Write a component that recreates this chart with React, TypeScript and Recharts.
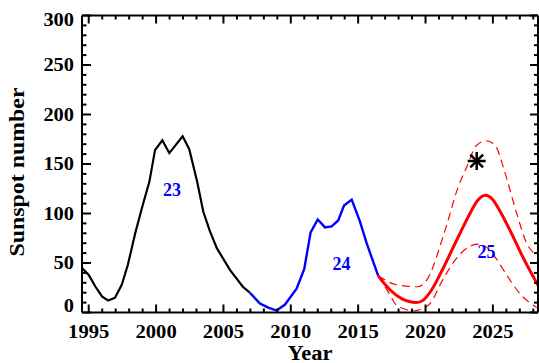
import React from 'react';
import { ComposedChart, Line, XAxis, YAxis, ReferenceDot } from 'recharts';

const FONT = '"Liberation Serif", "Times New Roman", Times, serif';

// axis ticks
const xMajorTicks = [1995, 2000, 2005, 2010, 2015, 2020, 2025];
const xAllTicks = [
  1995, 1996, 1997, 1998, 1999, 2000, 2001, 2002, 2003, 2004, 2005, 2006, 2007, 2008, 2009, 2010, 2011,
  2012, 2013, 2014, 2015, 2016, 2017, 2018, 2019, 2020, 2021, 2022, 2023, 2024, 2025, 2026, 2027, 2028,
];
const yMajorTicks = [0, 50, 100, 150, 200, 250, 300];
const yAllTicks = [
  0, 10, 20, 30, 40, 50, 60, 70, 80, 90, 100, 110, 120, 130, 140, 150, 160, 170, 180, 190, 200, 210, 220,
  230, 240, 250, 260, 270, 280, 290, 300,
];

// cycle 23 (black)
const cycle23Years = [
  1994.5, 1995.0, 1995.5, 1996.0, 1996.45, 1996.95, 1997.45, 1997.9, 1998.45, 1999.0, 1999.5, 1999.92,
  2000.46, 2000.98, 2001.97, 2002.46, 2003.05, 2003.5, 2004.0, 2004.51, 2005.48, 2006.44, 2006.96,
];
const cycle23Ssn = [45, 38, 26, 16, 12, 15, 28, 48, 80, 108, 132, 164, 174, 161, 178, 165, 132, 102, 82, 65, 43, 26, 20];

// cycle 24 (blue)
const cycle24Years = [
  2006.96, 2007.71, 2008.33, 2008.95, 2009.57, 2010.43, 2011.0, 2011.47, 2012.0, 2012.54, 2013.03, 2013.52,
  2013.95, 2014.52, 2015.13, 2015.63, 2016.49,
];
const cycle24Ssn = [20, 9, 5, 2, 8, 24, 44, 81, 94, 86, 87, 93, 108, 114, 92, 70, 37];

// prediction (red) and its bounds
const predYears = [
  2016.49, 2017.36, 2018.23, 2019.34, 2019.83, 2020.46, 2021.32, 2022.31, 2023.3, 2023.8, 2024.45, 2025.0,
  2025.5, 2026.27, 2027.26, 2028.37,
];
const predSsn = [37, 23, 14, 10, 12.5, 23, 45, 73, 100, 112, 118.5, 114, 103, 83, 55, 27];

const upperYears = [
  2016.49, 2017.86, 2019.4, 2020.1, 2021.45, 2022.43, 2023.06, 2023.8, 2024.54, 2025.16, 2025.9, 2026.77,
  2027.51, 2028.37,
];
const upperSsn = [37, 28, 26, 33, 83, 127, 147, 169, 173.5, 169, 141, 100, 70, 57];

const lowerYears = [
  2016.49, 2017.36, 2017.86, 2018.35, 2019.1, 2019.6, 2020.33, 2021.32, 2022.31, 2023.18, 2023.8, 2024.41,
  2025.16, 2026.02, 2027.01, 2028.25,
];
const lowerSsn = [37, 18, 7, 4, 1.5, 3, 9, 34, 55, 66, 69, 67, 56, 38, 19, 5];

// observed point (asterisk)
const starYears = [2023.8];
const starSsn = [153];

// cycle labels
const cycleNames = ['23', '24', '25'];
const cycleLabelYears = [2001.18, 2013.76, 2024.52];
const cycleLabelSsn = [124, 50, 62];

const toRows = (xs: number[], ys: number[]) => xs.map((year, i) => ({ year, value: ys[i] }));

const X_DOMAIN: [number, number] = [1994.5, 2028.35];
const Y_DOMAIN: [number, number] = [0, 300];

const labelStyle = {
  fontFamily: FONT,
  fontWeight: 'bold' as const,
  fontSize: 18,
  fill: '#000',
};

const BottomTick = ({ x, y, payload }: any) => {
  const major = xMajorTicks.includes(payload.value);
  const txt = String(payload.value);
  return (
    <g>
      <line x1={x} x2={x} y1={y} y2={y - (major ? 8 : 4)} stroke="#000" strokeWidth={2} />
      {major && (
        <text x={x} y={y + 25.5} textAnchor="middle" {...labelStyle} textLength={txt.length * 10.3} lengthAdjust="spacingAndGlyphs">
          {txt}
        </text>
      )}
    </g>
  );
};

const TopTick = ({ x, y, payload }: any) => {
  const major = xMajorTicks.includes(payload.value);
  return <line x1={x} x2={x} y1={y} y2={y + (major ? 8 : 4)} stroke="#000" strokeWidth={2} />;
};

const LeftTick = ({ x, y, payload }: any) => {
  const major = yMajorTicks.includes(payload.value);
  const txt = String(payload.value);
  // end labels sit inside the frame a little
  const dy = payload.value === 0 ? -0.5 : payload.value === 300 ? 10 : 6;
  return (
    <g>
      <line x1={x} x2={x + (major ? 9 : 4.5)} y1={y} y2={y} stroke="#000" strokeWidth={2} />
      {major && (
        <text x={x - 8} y={y + dy} textAnchor="end" {...labelStyle} textLength={txt.length * 10.2} lengthAdjust="spacingAndGlyphs">
          {txt}
        </text>
      )}
    </g>
  );
};

const RightTick = ({ x, y, payload }: any) => {
  const major = yMajorTicks.includes(payload.value);
  return <line x1={x} x2={x - (major ? 8 : 4)} y1={y} y2={y} stroke="#000" strokeWidth={2} />;
};

const YTitle = ({ viewBox }: any) => {
  const cx = viewBox.x + 24;
  const cy = viewBox.y + viewBox.height / 2 + 8;
  return (
    <text
      x={cx}
      y={cy}
      transform={`rotate(-90 ${cx} ${cy})`}
      textAnchor="middle"
      fontFamily={FONT}
      fontWeight="bold"
      fontSize={20}
      fill="#000"
      textLength={169}
      lengthAdjust="spacingAndGlyphs"
    >
      Sunspot number
    </text>
  );
};

const XTitle = ({ viewBox }: any) => (
  <text
    x={viewBox.x + viewBox.width / 2}
    y={viewBox.y + 47.5}
    textAnchor="middle"
    fontFamily={FONT}
    fontWeight="bold"
    fontSize={20}
    fill="#000"
    textLength={45}
    lengthAdjust="spacingAndGlyphs"
  >
    Year
  </text>
);

const Asterisk = ({ cx, cy }: any) => {
  if (cx == null || cy == null) return null;
  const r = 9;
  const d = r * 0.7071;
  return (
    <g stroke="#000" strokeWidth={2.5}>
      <line x1={cx - r} x2={cx + r} y1={cy} y2={cy} />
      <line x1={cx} x2={cx} y1={cy - r} y2={cy + r} />
      <line x1={cx - d} x2={cx + d} y1={cy - d} y2={cy + d} />
      <line x1={cx - d} x2={cx + d} y1={cy + d} y2={cy - d} />
    </g>
  );
};

export default function App() {
  return (
    <div style={{ position: 'absolute', left: 0, top: 0, width: 539, height: 363, background: '#fff' }}>
      <ComposedChart width={539} height={363} margin={{ top: 14.5, right: 0, bottom: 0, left: 0 }}>
        <XAxis
          dataKey="year"
          type="number"
          domain={X_DOMAIN}
          allowDataOverflow
          ticks={xAllTicks}
          interval={0}
          height={50.5}
          tickSize={0}
          tickMargin={0}
          tickLine={false}
          tick={<BottomTick />}
          axisLine={{ stroke: '#000', strokeWidth: 2 }}
          label={<XTitle />}
        />
        <XAxis
          xAxisId="top"
          orientation="top"
          dataKey="year"
          type="number"
          domain={X_DOMAIN}
          allowDataOverflow
          ticks={xAllTicks}
          interval={0}
          height={1}
          tickSize={0}
          tickMargin={0}
          tickLine={false}
          tick={<TopTick />}
          axisLine={{ stroke: '#000', strokeWidth: 2 }}
        />
        <YAxis
          type="number"
          domain={Y_DOMAIN}
          allowDataOverflow
          ticks={yAllTicks}
          interval={0}
          width={82}
          tickSize={0}
          tickMargin={0}
          tickLine={false}
          tick={<LeftTick />}
          axisLine={{ stroke: '#000', strokeWidth: 2 }}
          label={<YTitle />}
        />
        <YAxis
          yAxisId="right"
          orientation="right"
          type="number"
          domain={Y_DOMAIN}
          allowDataOverflow
          ticks={yAllTicks}
          interval={0}
          width={1}
          tickSize={0}
          tickMargin={0}
          tickLine={false}
          tick={<RightTick />}
          axisLine={{ stroke: '#000', strokeWidth: 2 }}
        />

        <Line data={toRows(cycle23Years, cycle23Ssn)} dataKey="value" type="linear" stroke="#000" strokeWidth={2.2} dot={false} isAnimationActive={false} />
        <Line data={toRows(cycle24Years, cycle24Ssn)} dataKey="value" type="linear" stroke="#0000ff" strokeWidth={2.4} dot={false} isAnimationActive={false} />
        <Line data={toRows(upperYears, upperSsn)} dataKey="value" type="monotone" stroke="#ff0000" strokeWidth={1.2} strokeDasharray="8 5" dot={false} isAnimationActive={false} />
        <Line data={toRows(lowerYears, lowerSsn)} dataKey="value" type="monotone" stroke="#ff0000" strokeWidth={1.2} strokeDasharray="8 5" dot={false} isAnimationActive={false} />
        <Line data={toRows(predYears, predSsn)} dataKey="value" type="monotone" stroke="#ff0000" strokeWidth={3} dot={false} isAnimationActive={false} />
        <Line data={toRows(starYears, starSsn)} dataKey="value" stroke="none" dot={<Asterisk />} isAnimationActive={false} />

        {cycleNames.map((name, i) => (
          <ReferenceDot
            key={name}
            x={cycleLabelYears[i]}
            y={cycleLabelSsn[i]}
            r={0}
            shape={(p: any) => (
              <text x={p.cx} y={p.cy + 6.5} textAnchor="middle" fontFamily={FONT} fontWeight="bold" fontSize={18} fill="#0000ff">
                {name}
              </text>
            )}
          />
        ))}
      </ComposedChart>
    </div>
  );
}
